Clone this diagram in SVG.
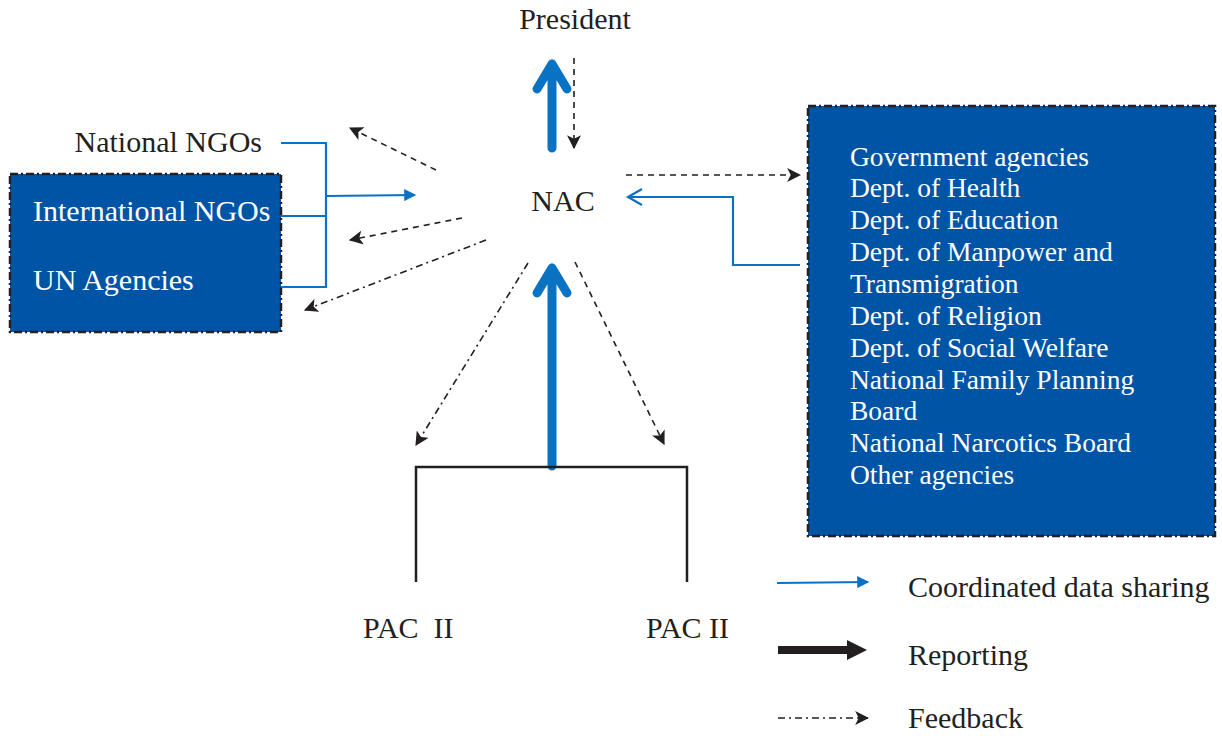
<svg xmlns="http://www.w3.org/2000/svg" width="1222" height="736" viewBox="0 0 1222 736">
<defs>
<style>
text{font-family:"Liberation Serif","Times New Roman",serif;font-size:30px;fill:#231f20}
.w{fill:#ffffff}
.s{font-size:27.5px}
.box{fill:#0054a6;stroke:#231f20;stroke-width:2.5;stroke-dasharray:8 3 2 3}
.blue{fill:none;stroke:#0a72c2;stroke-width:2.2}
.thick{fill:none;stroke:#0a72c2;stroke-width:9;stroke-linecap:round;stroke-linejoin:round}
.dash{fill:none;stroke:#231f20;stroke-width:1.6;stroke-dasharray:6 5}
.dd{fill:none;stroke:#231f20;stroke-width:1.6;stroke-dasharray:7 4 2 4}
.blk{fill:none;stroke:#231f20;stroke-width:2.5}
</style>
<marker id="ah2" viewBox="0 0 12 12" refX="11" refY="6" markerWidth="14" markerHeight="14" markerUnits="userSpaceOnUse" orient="auto"><path d="M0,0 L12,6 L0,12 L3,6 Z" fill="#231f20"/></marker>
<marker id="bh" viewBox="0 0 10 10" refX="9" refY="5" markerWidth="14" markerHeight="12" markerUnits="userSpaceOnUse" orient="auto"><path d="M0,0 L10,5 L0,10 Z" fill="#0a72c2"/></marker>
<marker id="kh" viewBox="0 0 10 10" refX="0.5" refY="5" markerWidth="20" markerHeight="26" markerUnits="userSpaceOnUse" orient="auto"><path d="M0,0 L10,5 L0,10 Z" fill="#231f20"/></marker>
</defs>
<rect width="1222" height="736" fill="#ffffff"/>

<g id="president"><text x="575" y="29" text-anchor="middle">President</text></g>
<g id="nac"><text x="563" y="211" text-anchor="middle">NAC</text></g>
<g id="national-ngos"><text x="262" y="152" text-anchor="end">National NGOs</text></g>
<g id="ngo-box">
<rect class="box" x="10" y="174" width="271" height="158"/>
<text class="w" x="33" y="221">International NGOs</text>
<text class="w" x="33" y="290">UN Agencies</text>
</g>
<g id="gov-box">
<rect class="box" x="808" y="106" width="407" height="430"/>
<text class="w s" x="850" y="166">Government agencies</text>
<text class="w s" x="850" y="197">Dept. of Health</text>
<text class="w s" x="850" y="229">Dept. of Education</text>
<text class="w s" x="850" y="261">Dept. of Manpower and</text>
<text class="w s" x="850" y="293">Transmigration</text>
<text class="w s" x="850" y="325">Dept. of Religion</text>
<text class="w s" x="850" y="357">Dept. of Social Welfare</text>
<text class="w s" x="850" y="389">National Family Planning</text>
<text class="w s" x="850" y="420">Board</text>
<text class="w s" x="850" y="452">National Narcotics Board</text>
<text class="w s" x="850" y="484">Other agencies</text>
</g>
<g id="pac1"><text x="363" y="638">PAC&#160; II</text></g>
<g id="pac2"><text x="646" y="638">PAC II</text></g>
<g id="legend">
<text x="908" y="597">Coordinated data sharing</text>
<text x="908" y="665">Reporting</text>
<text x="908" y="728">Feedback</text>
</g>

<g id="connectors">
<path class="blue" d="M281,143 H326 V287 H281 M281,216 H326 M326,196 L415,195" marker-end="url(#bh)"/>
<line class="dash" x1="436" y1="170" x2="350" y2="128" marker-end="url(#ah2)"/>
<line class="dash" x1="462" y1="218" x2="350" y2="240" marker-end="url(#ah2)"/>
<line class="dd" x1="486" y1="240" x2="305" y2="310" marker-end="url(#ah2)"/>
<path class="thick" d="M552,148 V64 M537,89 L552,64 L567,89"/>
<line class="dash" x1="574" y1="58" x2="574" y2="148" marker-end="url(#ah2)"/>
<line class="dash" x1="626" y1="175" x2="800" y2="175" marker-end="url(#ah2)"/>
<path class="blue" d="M800,265 H733 V197 H628"/>
<path class="blue" d="M642,189 L628,197 L642,205"/>
<path class="thick" d="M552,466 V268 M537,293 L552,268 L567,293"/>
<line class="dd" x1="528" y1="263" x2="416" y2="445" marker-end="url(#ah2)"/>
<line class="dash" x1="575" y1="262" x2="664" y2="444" marker-end="url(#ah2)"/>
<path class="blk" d="M416,582 V467 H687 V582"/>
<line x1="777" y1="583" x2="868" y2="582" stroke="#0a72c2" stroke-width="2" marker-end="url(#bh)"/>
<line x1="778" y1="650" x2="848" y2="650" stroke="#231f20" stroke-width="8" marker-end="url(#kh)"/>
<line class="dd" x1="778" y1="718" x2="868" y2="718" marker-end="url(#ah2)"/>
</g>
</svg>
